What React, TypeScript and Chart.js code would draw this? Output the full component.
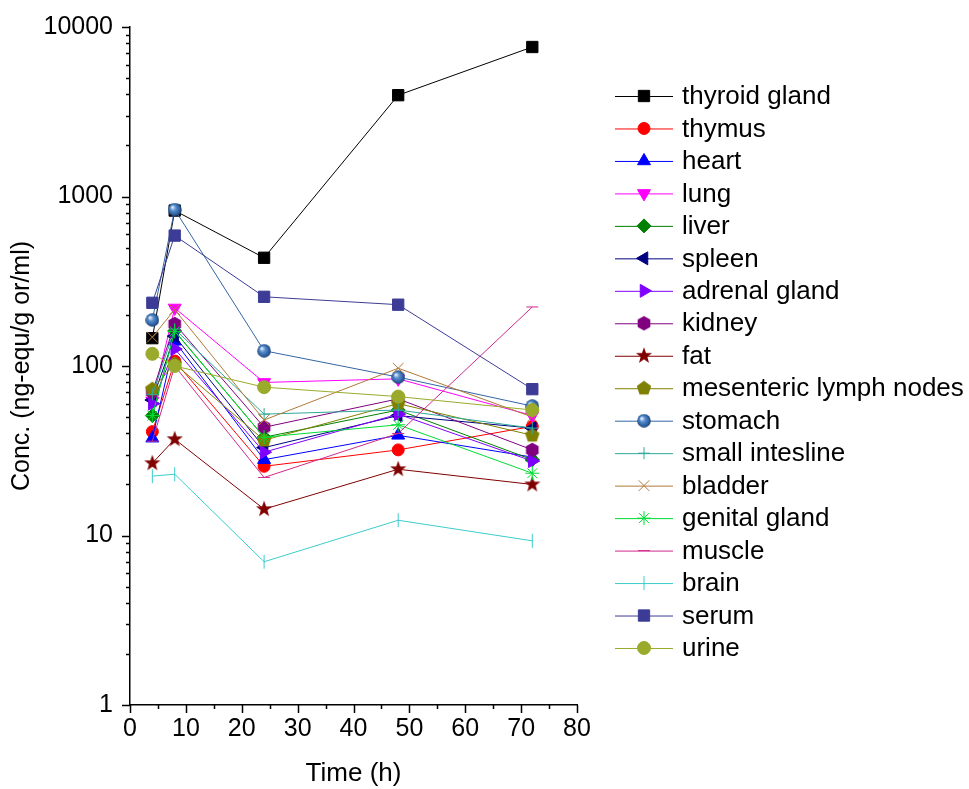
import React, { useEffect, useRef } from 'react';
import { Chart, registerables } from 'chart.js';
import { drawPoint } from 'chart.js/helpers';

Chart.register(...registerables);

const times = [4, 8, 24, 48, 72];

const seriesNames = [
  'thyroid gland', 'thymus', 'heart', 'lung', 'liver', 'spleen', 'adrenal gland',
  'kidney', 'fat', 'mesenteric lymph nodes', 'stomach', 'small intesline', 'bladder',
  'genital gland', 'muscle', 'brain', 'serum', 'urine',
];

const thyroidGland = [146, 826, 435, 3960, 7620];
const thymus = [41, 107, 25.6, 32, 44];
const heart = [37.5, 140, 28, 39, 29];
const lung = [62, 220, 80, 84, 51];
const liver = [51, 161, 38, 55, 28];
const spleen = [63, 150, 33, 51, 43];
const adrenalGland = [60, 126, 31, 52, 27.5];
const kidney = [70, 177, 43.5, 64, 32];
const fat = [26.7, 37, 14.3, 24.6, 20];
const mesentericLymphNodes = [73, 103, 36.5, 60, 39];
const stomach = [187, 838, 123, 86, 58];
const smallIntestine = [68, 165, 52, 55, 43];
const bladder = [148, 215, 48, 97, 50];
const genitalGland = [51, 160, 38, 45, 23.3];
const muscle = [36, 100, 22, 40, 223];
const brain = [22.4, 23, 7.0, 12.3, 9.3];
const serum = [236, 588, 256, 230, 73];
const urine = [118, 100, 75, 66, 55];

const seriesValues = [
  thyroidGland, thymus, heart, lung, liver, spleen, adrenalGland, kidney, fat,
  mesentericLymphNodes, stomach, smallIntestine, bladder, genitalGland, muscle, brain, serum, urine,
];

const seriesColors = [
  '#000000', '#FF0000', '#0000FF', '#FF00FF', '#008000', '#000080', '#8000FF',
  '#800080', '#800000', '#808000', '#3465A4', '#2FA89A', '#B07A3A', '#00DD33',
  '#D02A8A', '#3CCCCC', '#3C3C96', '#9AAB2B',
];

const xTickValues = [0, 10, 20, 30, 40, 50, 60, 70, 80];
const yTickValues = [1, 10, 100, 1000, 10000];

const FONT_FAMILY = '"Liberation Sans", Arial, sans-serif';

function makeCanvas(size: number, draw: (ctx: CanvasRenderingContext2D, c: number) => void) {
  const cv = document.createElement('canvas');
  cv.width = size;
  cv.height = size;
  const ctx = cv.getContext('2d')!;
  draw(ctx, size / 2);
  return cv;
}

function polygon(ctx: CanvasRenderingContext2D, c: number, r: number, n: number, start: number, inner?: number) {
  ctx.beginPath();
  const total = inner ? n * 2 : n;
  for (let i = 0; i < total; i++) {
    const a = start + (i * 2 * Math.PI) / total;
    const rr = inner && i % 2 === 1 ? inner : r;
    const px = c + rr * Math.cos(a);
    const py = c + rr * Math.sin(a);
    if (i === 0) ctx.moveTo(px, py);
    else ctx.lineTo(px, py);
  }
  ctx.closePath();
}

function buildStyles() {
  const sphere = makeCanvas(14, (ctx, c) => {
    const g = ctx.createRadialGradient(c - 2.5, c - 2.5, 0.5, c, c, 7);
    g.addColorStop(0, '#E8F0FA');
    g.addColorStop(0.35, '#5A8FD0');
    g.addColorStop(0.8, '#2A5C9A');
    g.addColorStop(1, '#1C3F70');
    ctx.fillStyle = g;
    ctx.beginPath();
    ctx.arc(c, c, 6.8, 0, Math.PI * 2);
    ctx.fill();
  });
  const star = makeCanvas(18, (ctx, c) => {
    ctx.fillStyle = '#800000';
    polygon(ctx, c, 8.5, 5, -Math.PI / 2, 3.5);
    ctx.fill();
  });
  const hexagon = makeCanvas(16, (ctx, c) => {
    ctx.fillStyle = '#800080';
    polygon(ctx, c, 7.3, 6, -Math.PI / 2);
    ctx.fill();
  });
  const pentagon = makeCanvas(16, (ctx, c) => {
    ctx.fillStyle = '#808000';
    polygon(ctx, c, 7.6, 5, -Math.PI / 2);
    ctx.fill();
  });
  return [
    { pointStyle: 'rect', rotation: 0, radius: 8 },
    { pointStyle: 'circle', rotation: 0, radius: 6 },
    { pointStyle: 'triangle', rotation: 0, radius: 7.5 },
    { pointStyle: 'triangle', rotation: 180, radius: 7.5 },
    { pointStyle: 'rectRot', rotation: 0, radius: 7 },
    { pointStyle: 'triangle', rotation: -90, radius: 7.5 },
    { pointStyle: 'triangle', rotation: 90, radius: 7.5 },
    { pointStyle: hexagon, rotation: 0, radius: 7 },
    { pointStyle: star, rotation: 0, radius: 8 },
    { pointStyle: pentagon, rotation: 0, radius: 7 },
    { pointStyle: sphere, rotation: 0, radius: 7 },
    { pointStyle: 'cross', rotation: 0, radius: 6 },
    { pointStyle: 'crossRot', rotation: 0, radius: 7.5 },
    { pointStyle: 'star', rotation: 0, radius: 7 },
    { pointStyle: 'line', rotation: 0, radius: 6 },
    { pointStyle: 'line', rotation: 90, radius: 7 },
    { pointStyle: 'rect', rotation: 0, radius: 8 },
    { pointStyle: 'circle', rotation: 0, radius: 6.5 },
  ];
}

const isPow10 = (v: number) => {
  const l = Math.log10(v);
  return Math.abs(l - Math.round(l)) < 1e-9;
};

export default function App() {
  const ref = useRef<HTMLCanvasElement | null>(null);

  useEffect(() => {
    if (!ref.current) return;
    const styles = buildStyles();
    const n = seriesNames.length;

    const datasets = seriesNames.map((name, i) => ({
      label: name,
      data: times.map((t, j) => ({ x: t, y: seriesValues[i][j] })),
      borderColor: seriesColors[i],
      backgroundColor: seriesColors[i],
      pointBackgroundColor: seriesColors[i],
      pointBorderColor: seriesColors[i],
      pointBorderWidth: 1,
      borderWidth: 1,
      pointStyle: styles[i].pointStyle as any,
      pointRotation: styles[i].rotation,
      pointRadius: styles[i].radius,
      showLine: true,
      tension: 0,
      order: n - i,
    }));

    const axisTicksPlugin = {
      id: 'axisTicks',
      afterDraw(chart: any) {
        const ctx = chart.ctx as CanvasRenderingContext2D;
        const xs = chart.scales.x;
        const ys = chart.scales.y;
        const bottom = chart.chartArea.bottom;
        const left = chart.chartArea.left;
        ctx.save();
        ctx.strokeStyle = '#000';
        ctx.lineWidth = 1.5;
        ctx.beginPath();
        for (let v = 0; v <= 80; v += 5) {
          const px = Math.round(xs.getPixelForValue(v)) + 0.5;
          const len = v % 10 === 0 ? 8 : 4;
          ctx.moveTo(px, bottom);
          ctx.lineTo(px, bottom + len);
        }
        for (let e = 0; e <= 4; e++) {
          for (let m = 1; m <= 9; m++) {
            const v = m * Math.pow(10, e);
            if (v > 10000) break;
            const py = Math.round(ys.getPixelForValue(v)) + 0.5;
            const len = m === 1 ? 8 : 4;
            ctx.moveTo(left, py);
            ctx.lineTo(left - len, py);
          }
        }
        ctx.stroke();
        ctx.restore();
      },
    };

    const legendPlugin = {
      id: 'customLegend',
      afterDraw(chart: any) {
        const ctx = chart.ctx as CanvasRenderingContext2D;
        ctx.save();
        const top = 96;
        const step = 32.47;
        seriesNames.forEach((name, i) => {
          const y = top + i * step;
          ctx.strokeStyle = seriesColors[i];
          ctx.lineWidth = 1;
          ctx.beginPath();
          ctx.moveTo(615, y + 0.5);
          ctx.lineTo(673, y + 0.5);
          ctx.stroke();
          ctx.fillStyle = seriesColors[i];
          ctx.strokeStyle = seriesColors[i];
          ctx.lineWidth = 1;
          drawPoint(ctx, {
            pointStyle: styles[i].pointStyle as any,
            rotation: styles[i].rotation,
            radius: styles[i].radius,
            borderWidth: 1,
          }, 644, y);
          ctx.fillStyle = '#000';
          ctx.font = `26px ${FONT_FAMILY}`;
          ctx.textBaseline = 'middle';
          ctx.textAlign = 'left';
          ctx.fillText(name, 682, y + 1);
        });
        ctx.restore();
      },
    };

    const tickFont = { family: FONT_FAMILY, size: 25 };

    const chart = new Chart(ref.current, {
      type: 'scatter',
      data: { datasets: datasets as any },
      options: {
        animation: false,
        responsive: false,
        maintainAspectRatio: false,
        layout: { padding: { left: 0, top: 27, right: 392, bottom: 0 } },
        plugins: {
          legend: { display: false },
          tooltip: { enabled: false },
        },
        scales: {
          x: {
            type: 'linear',
            min: 0,
            max: 80,
            afterBuildTicks: (s: any) => {
              s.ticks = xTickValues.map((v) => ({ value: v }));
            },
            ticks: { font: tickFont, color: '#000', padding: 9, maxRotation: 0, autoSkip: false },
            grid: { display: false, drawTicks: false },
            border: { display: true, color: '#000', width: 1.5 },
            title: {
              display: true,
              text: 'Time (h)',
              color: '#000',
              font: { family: FONT_FAMILY, size: 26 },
              padding: { top: 0, bottom: 0 },
            },
            afterFit: (s: any) => {
              s.height = 84;
              s.paddingLeft = 0;
              s.paddingRight = 0;
            },
          },
          y: {
            type: 'logarithmic',
            min: 1,
            max: 10000,
            afterBuildTicks: (s: any) => {
              s.ticks = yTickValues.map((v) => ({ value: v, major: true }));
            },
            ticks: {
              font: tickFont,
              color: '#000',
              padding: 17,
              autoSkip: false,
              callback: (v: any) => (isPow10(Number(v)) ? String(Number(v)) : ''),
            },
            grid: { display: false, drawTicks: false },
            border: { display: true, color: '#000', width: 1.5 },
            title: {
              display: true,
              text: 'Conc. (ng-equ/g or/ml)',
              color: '#000',
              font: { family: FONT_FAMILY, size: 25 },
              padding: { top: 7, bottom: 0 },
            },
            afterFit: (s: any) => {
              s.width = 130;
              s.paddingTop = 0;
              s.paddingBottom = 0;
            },
          },
        },
      },
      plugins: [axisTicksPlugin, legendPlugin],
    });

    return () => chart.destroy();
  }, []);

  return (
    <div style={{ position: 'absolute', left: 0, top: 0, width: 969, height: 789, background: '#fff' }}>
      <canvas ref={ref} width={969} height={789} style={{ display: 'block' }} />
    </div>
  );
}
